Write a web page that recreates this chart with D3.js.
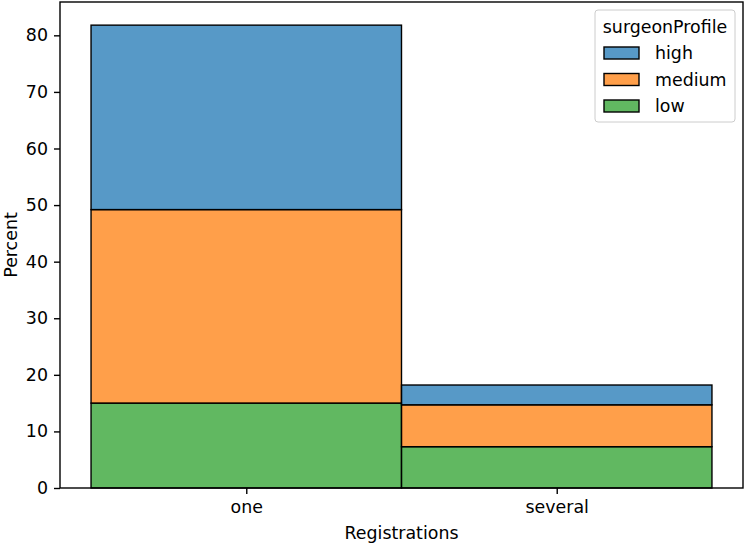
<!DOCTYPE html>
<html>
<head>
<meta charset="utf-8">
<script src="https://cdn.jsdelivr.net/npm/d3@7"></script>
<style>
  body { margin: 0; background: #fff; }
  svg { font-family: "DejaVu Sans", sans-serif; }
</style>
</head>
<body>
<div class="main-container"></div>
<script>
// percent of all rows, per registrations category
const categories = ["one", "several"];
const profiles = ["high", "medium", "low"];
const lowValues = [15.0, 7.3];
const mediumValues = [34.2, 7.4];
const highValues = [32.6, 3.5];
const yTicks = [0, 10, 20, 30, 40, 50, 60, 70, 80];

const colors = { high: "#1f77b4", medium: "#ff7f0e", low: "#2ca02c" };

const width = 746;
const height = 545;
const margin = { left: 60, right: 3, top: 2, bottom: 57 };
const fs = "17.4px";

const rows = categories.map((c, i) => ({
    idx: i,
    low: lowValues[i],
    medium: mediumValues[i],
    high: highValues[i]
}));

const svg = d3.select(".main-container")
    .append("svg")
    .attr("width", width)
    .attr("height", height);

const x = d3.scaleLinear()
    .domain([-0.6, 1.6])
    .range([margin.left, width - margin.right]);

const totals = rows.map(r => r.low + r.medium + r.high);
const y = d3.scaleLinear()
    .domain([0, d3.max(totals) * 1.05])
    .range([height - margin.bottom, margin.top]);

// bottom to top: low, medium, high
const stacked = d3.stack().keys(["low", "medium", "high"])(rows);

svg.append("g")
    .selectAll("g")
    .data(stacked)
    .enter()
    .append("g")
    .attr("fill", d => colors[d.key])
    .attr("fill-opacity", 0.75)
    .selectAll("rect")
    .data(d => d)
    .enter()
    .append("rect")
    .attr("x", d => x(d.data.idx - 0.5))
    .attr("width", d => x(d.data.idx + 0.5) - x(d.data.idx - 0.5))
    .attr("y", d => y(d[1]))
    .attr("height", d => y(d[0]) - y(d[1]))
    .attr("stroke", "#000")
    .attr("stroke-width", 1.4);

// axes frame
svg.append("rect")
    .attr("x", margin.left)
    .attr("y", margin.top)
    .attr("width", width - margin.right - margin.left)
    .attr("height", height - margin.bottom - margin.top)
    .attr("fill", "none")
    .attr("stroke", "#000")
    .attr("stroke-width", 1.4);

const yAxis = svg.append("g")
    .attr("transform", `translate(${margin.left},0)`)
    .call(d3.axisLeft(y).tickValues(yTicks).tickSize(6).tickPadding(6));
const xAxis = svg.append("g")
    .attr("transform", `translate(0,${height - margin.bottom})`)
    .call(d3.axisBottom(x).tickValues([0, 1]).tickFormat(i => categories[i]).tickSize(6).tickPadding(6.5));

[yAxis, xAxis].forEach(a => {
    a.select(".domain").remove();
    a.selectAll("line").attr("stroke", "#000").attr("stroke-width", 1.4);
    a.selectAll("text")
        .attr("fill", "#000")
        .style("font-size", fs)
        .style("font-family", "DejaVu Sans");
});

svg.append("text")
    .attr("x", (margin.left + width - margin.right) / 2)
    .attr("y", 539)
    .attr("text-anchor", "middle")
    .style("font-size", fs)
    .text("Registrations");

svg.append("text")
    .attr("transform", `translate(17,${(margin.top + height - margin.bottom) / 2}) rotate(-90)`)
    .attr("text-anchor", "middle")
    .style("font-size", fs)
    .text("Percent");

// legend
const lg = svg.append("g").attr("transform", "translate(595,10)");
lg.append("rect")
    .attr("width", 140)
    .attr("height", 112)
    .attr("rx", 3)
    .attr("fill", "#fff")
    .attr("fill-opacity", 0.8)
    .attr("stroke", "#ccc");
lg.append("text")
    .attr("x", 70)
    .attr("y", 23)
    .attr("text-anchor", "middle")
    .style("font-size", fs)
    .text("surgeonProfile");
const item = lg.selectAll(".item")
    .data(profiles)
    .enter()
    .append("g")
    .attr("class", "item")
    .attr("transform", (d, i) => `translate(9,${43 + i * 26.5})`);
item.append("rect")
    .attr("x", 0)
    .attr("y", -6)
    .attr("width", 35)
    .attr("height", 12)
    .attr("fill", d => colors[d])
    .attr("fill-opacity", 0.75)
    .attr("stroke", "#000")
    .attr("stroke-width", 1.4);
item.append("text")
    .attr("x", 51)
    .attr("y", 6)
    .style("font-size", fs)
    .text(d => d);
</script>
</body>
</html>
